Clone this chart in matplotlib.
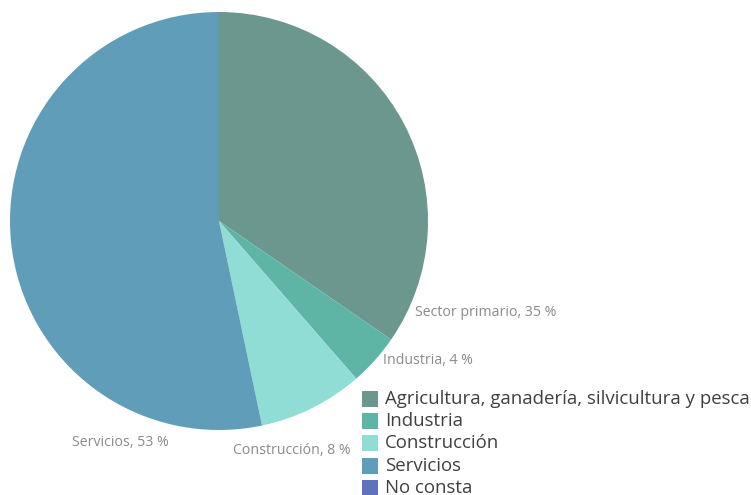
import matplotlib
matplotlib.use("Agg")
import matplotlib.pyplot as plt
from matplotlib.patches import Rectangle

categories = ["Agricultura, ganadería, silvicultura y pesca", "Industria", "Construcción", "Servicios", "No consta"]
slice_labels = ["Sector primario, 35 %", "Industria, 4 %", "Construcción, 8 %", "Servicios, 53 %", ""]
values = [34.6, 4.0, 8.1, 53.3, 0.0]
colors = ["#6B978F", "#5FB5A5", "#8FDDD5", "#5F9DB8", "#5F72BE"]

W, H = 751, 495
fig = plt.figure(figsize=(W / 100, H / 100), dpi=100)
plt.rcParams['font.family'] = ['Open Sans', 'DejaVu Sans']

cx, cy, r = 219, 221, 209
ax = fig.add_axes([(cx - r) / W, (H - cy - r) / H, 2 * r / W, 2 * r / H])
ax.pie(values, colors=colors, startangle=90, counterclock=False,
       wedgeprops=dict(linewidth=0))
ax.set_aspect('equal')
ax.set_xlim(-1, 1)
ax.set_ylim(-1, 1)

label_pos = [(415, 312), (383, 360), (233, 450), (72, 442)]
for (x, y), t in zip(label_pos, slice_labels[:4]):
    fig.text(x / W, 1 - y / H, t, fontsize=10.2, color="#8A8A8A", ha="left", va="center")

ys = [399, 421, 443, 466, 488]
for y, c, name in zip(ys, colors, categories):
    fig.patches.append(Rectangle((362 / W, 1 - (y + 8) / H), 16 / W, 16 / H,
                                 transform=fig.transFigure, facecolor=c, edgecolor="none"))
    fig.text(385 / W, 1 - y / H, name, fontsize=13.4, color="#404040", ha="left", va="center")

fig.savefig("out.png", dpi=100)
